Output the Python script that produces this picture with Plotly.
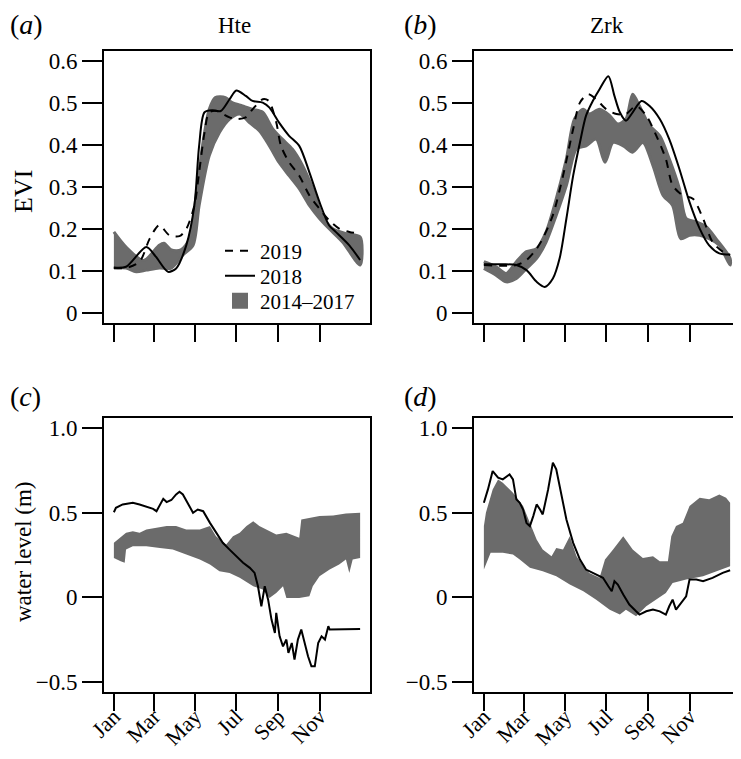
import plotly.graph_objects as go

# day-of-year positions and values
MONTH_TICKS = [1, 60, 121, 182, 244, 305]
MONTH_LABELS = ["Jan", "Mar", "May", "Jul", "Sep", "Nov"]
EVI_TICKS = [0, 0.1, 0.2, 0.3, 0.4, 0.5, 0.6]
WL_TICKS = [-0.5, 0, 0.5, 1.0]
WL_TICK_LABELS = ["\u22120.5", "0", "0.5", "1.0"]

# (a) Hte EVI
HTE_2018_DOY = [1, 19, 49, 63, 81, 93, 108, 120, 127, 135, 147, 159, 172, 182, 196, 206, 221, 231, 245, 260, 275, 290, 305, 319, 329, 349, 365]
HTE_2018_EVI = [0.108, 0.11, 0.157, 0.134, 0.098, 0.106, 0.161, 0.256, 0.398, 0.478, 0.483, 0.481, 0.509, 0.530, 0.517, 0.505, 0.501, 0.489, 0.454, 0.422, 0.398, 0.335, 0.264, 0.209, 0.193, 0.161, 0.126]
HTE_2019_DOY = [1, 19, 39, 54, 68, 83, 98, 108, 120, 127, 135, 142, 154, 162, 172, 182, 196, 206, 221, 230, 241, 248, 260, 275, 290, 305, 319, 334, 349, 365]
HTE_2019_EVI = [0.107, 0.107, 0.122, 0.177, 0.209, 0.185, 0.183, 0.2, 0.256, 0.335, 0.43, 0.478, 0.481, 0.474, 0.466, 0.462, 0.466, 0.485, 0.509, 0.505, 0.454, 0.398, 0.359, 0.327, 0.28, 0.248, 0.221, 0.201, 0.193, 0.189]
HTE_BAND_UP_DOY = [1, 19, 45, 68, 75, 86, 100, 113, 122, 132, 142, 151, 166, 176, 191, 206, 221, 236, 250, 265, 280, 295, 309, 324, 344, 365]
HTE_BAND_UP = [0.193, 0.157, 0.125, 0.161, 0.166, 0.15, 0.15, 0.177, 0.272, 0.398, 0.485, 0.513, 0.513, 0.501, 0.493, 0.485, 0.478, 0.438, 0.414, 0.39, 0.351, 0.296, 0.232, 0.201, 0.189, 0.181]
HTE_BAND_LO_DOY = [1, 19, 34, 49, 68, 86, 103, 118, 127, 142, 157, 172, 187, 201, 216, 231, 245, 260, 275, 290, 305, 319, 339, 365]
HTE_BAND_LO = [0.107, 0.107, 0.098, 0.102, 0.107, 0.107, 0.138, 0.161, 0.256, 0.375, 0.43, 0.462, 0.474, 0.454, 0.434, 0.398, 0.359, 0.327, 0.296, 0.256, 0.225, 0.201, 0.169, 0.114]

# (b) Zrk EVI
ZRK_2018_DOY = [1, 29, 49, 64, 79, 91, 103, 113, 123, 133, 143, 152, 162, 172, 185, 194, 202, 211, 221, 234, 246, 261, 275, 290, 305, 320, 334, 349, 365]
ZRK_2018_EVI = [0.116, 0.116, 0.114, 0.102, 0.074, 0.062, 0.082, 0.13, 0.225, 0.327, 0.406, 0.47, 0.505, 0.533, 0.564, 0.517, 0.478, 0.458, 0.478, 0.505, 0.493, 0.462, 0.414, 0.343, 0.264, 0.201, 0.161, 0.142, 0.139]
ZRK_2019_DOY = [1, 49, 64, 79, 88, 103, 118, 133, 143, 155, 167, 182, 197, 211, 226, 241, 256, 270, 280, 295, 310, 325, 339, 354, 365]
ZRK_2019_EVI = [0.114, 0.114, 0.126, 0.153, 0.177, 0.233, 0.327, 0.438, 0.501, 0.521, 0.509, 0.485, 0.474, 0.474, 0.493, 0.47, 0.422, 0.367, 0.304, 0.28, 0.272, 0.225, 0.169, 0.146, 0.138]
ZRK_BAND_UP_DOY = [1, 19, 34, 49, 64, 79, 93, 108, 123, 135, 148, 157, 172, 187, 199, 211, 221, 231, 246, 261, 275, 290, 300, 315, 330, 344, 365]
ZRK_BAND_UP = [0.122, 0.11, 0.094, 0.122, 0.146, 0.153, 0.193, 0.272, 0.367, 0.462, 0.485, 0.474, 0.485, 0.47, 0.45, 0.462, 0.521, 0.493, 0.446, 0.422, 0.367, 0.296, 0.225, 0.217, 0.205, 0.177, 0.13]
ZRK_BAND_LO_DOY = [1, 19, 34, 49, 64, 79, 93, 108, 123, 138, 152, 167, 180, 192, 207, 221, 236, 251, 266, 280, 292, 305, 320, 334, 349, 365]
ZRK_BAND_LO = [0.106, 0.09, 0.074, 0.082, 0.106, 0.13, 0.169, 0.233, 0.304, 0.391, 0.398, 0.414, 0.359, 0.406, 0.398, 0.383, 0.406, 0.351, 0.28, 0.256, 0.177, 0.185, 0.185, 0.177, 0.161, 0.114]

# (c) Hte water level
HTE_WL_DOY = [1, 4, 14, 29, 39, 49, 59, 64, 69, 74, 79, 86, 93, 98, 103, 111, 118, 125, 133, 143, 152, 162, 172, 182, 192, 202, 209, 214, 219, 224, 229, 234, 239, 241, 246, 251, 256, 259, 264, 268, 273, 278, 283, 288, 293, 298, 303, 308, 313, 318, 320, 365]
HTE_WL_2018 = [0.503, 0.529, 0.549, 0.559, 0.549, 0.535, 0.523, 0.509, 0.549, 0.582, 0.563, 0.575, 0.608, 0.624, 0.608, 0.549, 0.5, 0.519, 0.509, 0.44, 0.381, 0.322, 0.282, 0.243, 0.204, 0.174, 0.144, 0.065, -0.053, 0.065, -0.014, -0.132, -0.211, -0.092, -0.231, -0.29, -0.25, -0.329, -0.27, -0.369, -0.25, -0.191, -0.27, -0.349, -0.408, -0.408, -0.27, -0.231, -0.25, -0.171, -0.191, -0.187]
HTE_WL_UP_DOY = [1, 11, 19, 29, 39, 49, 64, 79, 93, 108, 128, 143, 152, 167, 177, 187, 197, 207, 216, 226, 241, 256, 275, 278, 290, 305, 325, 344, 365]
HTE_WL_UP = [0.322, 0.352, 0.381, 0.391, 0.381, 0.401, 0.411, 0.421, 0.421, 0.401, 0.401, 0.421, 0.361, 0.312, 0.361, 0.381, 0.421, 0.45, 0.421, 0.401, 0.371, 0.381, 0.352, 0.46, 0.47, 0.48, 0.484, 0.496, 0.5]
HTE_WL_LO_DOY = [1, 11, 17, 19, 29, 49, 69, 88, 108, 128, 143, 157, 172, 187, 207, 221, 231, 241, 251, 256, 275, 290, 295, 305, 320, 334, 344, 349, 354, 365]
HTE_WL_LO = [0.233, 0.213, 0.204, 0.282, 0.302, 0.302, 0.292, 0.282, 0.253, 0.223, 0.194, 0.154, 0.144, 0.115, 0.065, 0.046, -0.004, 0.026, 0.065, -0.004, -0.004, 0.006, 0.065, 0.125, 0.164, 0.194, 0.223, 0.144, 0.223, 0.233]

# (d) Zrk water level
ZRK_WL_DOY = [1, 7, 14, 22, 29, 39, 44, 49, 54, 59, 64, 69, 74, 79, 84, 88, 96, 103, 108, 116, 123, 133, 143, 152, 162, 172, 177, 185, 190, 194, 199, 207, 216, 226, 231, 241, 251, 261, 270, 275, 280, 285, 292, 300, 305, 315, 325, 339, 354, 365]
ZRK_WL_2018 = [0.559, 0.638, 0.746, 0.707, 0.697, 0.727, 0.697, 0.579, 0.559, 0.519, 0.44, 0.421, 0.48, 0.549, 0.519, 0.49, 0.638, 0.796, 0.756, 0.598, 0.46, 0.322, 0.223, 0.164, 0.144, 0.125, 0.115, 0.065, 0.036, 0.095, 0.075, 0.016, -0.043, -0.083, -0.102, -0.083, -0.073, -0.083, -0.102, -0.053, -0.014, -0.073, -0.034, 0.006, 0.105, 0.105, 0.095, 0.115, 0.144, 0.16]
ZRK_WL_UP_DOY = [1, 4, 14, 22, 29, 44, 59, 69, 79, 88, 101, 108, 118, 128, 138, 148, 157, 172, 180, 192, 207, 221, 236, 251, 261, 273, 278, 285, 295, 305, 320, 334, 349, 359, 365]
ZRK_WL_UP = [0.421, 0.5, 0.638, 0.697, 0.677, 0.618, 0.539, 0.44, 0.342, 0.282, 0.243, 0.292, 0.282, 0.361, 0.243, 0.184, 0.144, 0.115, 0.223, 0.282, 0.361, 0.282, 0.233, 0.243, 0.213, 0.213, 0.361, 0.421, 0.44, 0.539, 0.588, 0.579, 0.608, 0.588, 0.559]
ZRK_WL_LO_DOY = [1, 11, 29, 44, 54, 69, 88, 108, 128, 148, 167, 187, 202, 211, 226, 241, 256, 270, 280, 300, 325, 344, 365]
ZRK_WL_LO = [0.164, 0.263, 0.263, 0.253, 0.223, 0.174, 0.154, 0.125, 0.075, 0.036, -0.014, -0.073, -0.102, -0.073, -0.112, -0.053, -0.014, 0.026, 0.085, 0.105, 0.125, 0.154, 0.184]

FONT = "Liberation Serif"
BAND = "#6b6b6b"
XRANGE = [-13.6, 379.6]

# the page body has an 8px margin, so lay the figure out in screen pixels minus that
OFF = 8
W, H = 741 - OFF, 759 - OFF


def px(x):
    return (x - OFF) / W


def py(y):
    return 1 - (y - OFF) / H


fig = go.Figure()


def add_band(doy_up, up, doy_lo, lo, ax, smooth=True, edge=0):
    fig.add_trace(go.Scatter(
        x=list(doy_up) + list(reversed(doy_lo)),
        y=list(up) + list(reversed(lo)),
        fill="toself", fillcolor=BAND, mode="lines",
        line=dict(color=BAND, width=edge, shape="spline" if smooth else "linear", smoothing=0.8),
        xaxis="x" + ax, yaxis="y" + ax, showlegend=False, hoverinfo="skip",
    ))


def add_line(doy, vals, ax, dash="solid", name=None, legend="legend", smooth=True):
    fig.add_trace(go.Scatter(
        x=doy, y=vals, mode="lines",
        line=dict(color="black", width=2, dash=dash, shape="spline" if smooth else "linear", smoothing=0.8),
        xaxis="x" + ax, yaxis="y" + ax, name=name, showlegend=name is not None, legend=legend,
    ))


# top row: EVI
add_band(HTE_BAND_UP_DOY, HTE_BAND_UP, HTE_BAND_LO_DOY, HTE_BAND_LO, "", edge=3)
add_line(HTE_2019_DOY, HTE_2019_EVI, "", dash="8px,7px", name="2019", legend="legend")
add_line(HTE_2018_DOY, HTE_2018_EVI, "", name="2018", legend="legend2")
# legend key for the 2014-2017 range
fig.add_trace(go.Scatter(x=[None], y=[None], mode="markers", name="2014\u20132017", legend="legend3",
                         marker=dict(symbol="square", size=19, color=BAND)))
add_band(ZRK_BAND_UP_DOY, ZRK_BAND_UP, ZRK_BAND_LO_DOY, ZRK_BAND_LO, "2", edge=3)
add_line(ZRK_2019_DOY, ZRK_2019_EVI, "2", dash="8px,7px")
add_line(ZRK_2018_DOY, ZRK_2018_EVI, "2")

# bottom row: water level
add_band(HTE_WL_UP_DOY, HTE_WL_UP, HTE_WL_LO_DOY, HTE_WL_LO, "3", smooth=False)
add_line(HTE_WL_DOY, HTE_WL_2018, "3", smooth=False)
add_band(ZRK_WL_UP_DOY, ZRK_WL_UP, ZRK_WL_LO_DOY, ZRK_WL_LO, "4", smooth=False)
add_line(ZRK_WL_DOY, ZRK_WL_2018, "4", smooth=False)

left_dom = [px(104), px(370)]
right_dom = [px(474), px(740)]
top_dom = [py(323), py(51)]
bot_dom = [py(692), py(418)]

common_x = dict(range=XRANGE, tickvals=MONTH_TICKS, ticktext=MONTH_LABELS, ticks="outside", ticklen=17,
                tickwidth=2, tickcolor="black", showline=True, linecolor="black", linewidth=2, mirror=True,
                showgrid=False, zeroline=False, tickfont=dict(family=FONT, size=22, color="black"))
common_y = dict(ticks="outside", ticklen=20, tickwidth=2, tickcolor="black", showline=True, linecolor="black",
                linewidth=2, mirror=True, showgrid=False, zeroline=False,
                tickfont=dict(family=FONT, size=23, color="black"))

legend_common = dict(xanchor="left", yanchor="middle", bgcolor="rgba(0,0,0,0)",
                     font=dict(family=FONT, size=21, color="black"))

fig.update_layout(
    width=W, height=H, margin=dict(l=0, r=0, t=0, b=0, autoexpand=False),
    paper_bgcolor="white", plot_bgcolor="white",
    font=dict(family=FONT, size=21, color="black"),
    xaxis=dict(domain=left_dom, anchor="y", showticklabels=False, **common_x),
    yaxis=dict(domain=top_dom, anchor="x", range=[-0.024, 0.624], tickvals=EVI_TICKS, **common_y),
    xaxis2=dict(domain=right_dom, anchor="y2", showticklabels=False, **common_x),
    yaxis2=dict(domain=top_dom, anchor="x2", range=[-0.024, 0.624], tickvals=EVI_TICKS, **common_y),
    xaxis3=dict(domain=left_dom, anchor="y3", tickangle=-45, ticklabelstandoff=-16, **common_x),
    yaxis3=dict(domain=bot_dom, anchor="x3", range=[-0.56, 1.06], tickvals=WL_TICKS, ticktext=WL_TICK_LABELS, **common_y),
    xaxis4=dict(domain=right_dom, anchor="y4", tickangle=-45, ticklabelstandoff=-16, **common_x),
    yaxis4=dict(domain=bot_dom, anchor="x4", range=[-0.56, 1.06], tickvals=WL_TICKS, ticktext=WL_TICK_LABELS, **common_y),
    legend=dict(x=px(220), y=py(251), **legend_common),
    legend2=dict(x=px(220), y=py(276), **legend_common),
    legend3=dict(x=px(220), y=py(301), **legend_common),
    showlegend=True,
)

annots = [
    dict(text="(<i>a</i>)", x=8, y=24, size=28, xanchor="left"),
    dict(text="(<i>b</i>)", x=402, y=24, size=28, xanchor="left"),
    dict(text="(<i>c</i>)", x=8, y=396, size=28, xanchor="left"),
    dict(text="(<i>d</i>)", x=402, y=396, size=28, xanchor="left"),
    dict(text="Hte", x=234, y=26, size=23, xanchor="center"),
    dict(text="Zrk", x=607, y=26, size=23, xanchor="center"),
]
for a in annots:
    fig.add_annotation(text=a["text"], xref="paper", yref="paper", x=px(a["x"]), y=py(a["y"]),
                       xanchor=a["xanchor"], yanchor="middle", showarrow=False,
                       font=dict(family=FONT, size=a["size"], color="black"))

for label, ypix, size in [("EVI", 192, 26), ("water level (m)", 552, 23)]:
    fig.add_annotation(text=label, xref="paper", yref="paper", x=px(23), y=py(ypix), textangle=-90,
                       xanchor="center", yanchor="middle", showarrow=False,
                       font=dict(family=FONT, size=size, color="black"))

fig.write_html("out.html")
